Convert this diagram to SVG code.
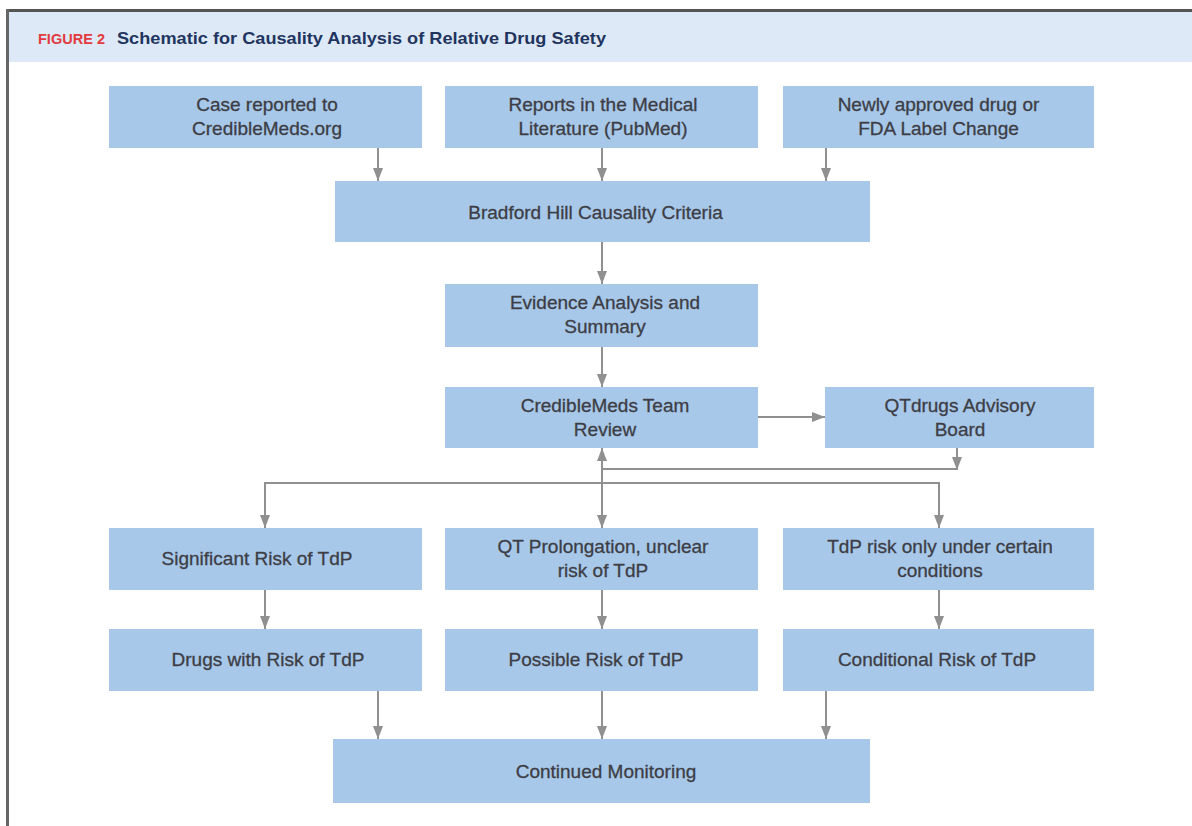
<svg xmlns="http://www.w3.org/2000/svg" width="1192" height="826" viewBox="0 0 1192 826">
<style>
.box{fill:#a7c8e9;}
.t{font-family:"Liberation Sans",Arial,sans-serif;font-size:19px;fill:#3d3d45;stroke:#3d3d45;stroke-width:0.3;text-anchor:middle;}
.c{stroke:#909090;stroke-width:2;fill:none;}
</style>
<defs>
<marker id="ah" viewBox="0 0 13 10" refX="13" refY="5" markerWidth="6.5" markerHeight="5" orient="auto-start-reverse" markerUnits="strokeWidth">
<path d="M0,0 L13,5 L0,10 z" fill="#909090"/>
</marker>
</defs>
<rect x="0" y="0" width="1192" height="826" fill="#ffffff"/>
<rect x="7" y="12" width="1185" height="50" fill="#dde9f7"/>
<line x1="6" y1="10.5" x2="1192" y2="10.5" stroke="#555" stroke-width="3"/>
<line x1="7.5" y1="9" x2="7.5" y2="826" stroke="#666" stroke-width="3"/>
<text x="38" y="44" font-family="Liberation Sans,Arial,sans-serif" font-size="14.5" font-weight="bold" fill="#e23a3f" textLength="67" lengthAdjust="spacing">FIGURE 2</text>
<text x="117" y="44" font-family="Liberation Sans,Arial,sans-serif" font-size="16.5" font-weight="bold" fill="#1f3560" textLength="489" lengthAdjust="spacingAndGlyphs">Schematic for Causality Analysis of Relative Drug Safety</text>

<g id="connectors">
<line class="c" x1="378" y1="148" x2="378" y2="181" marker-end="url(#ah)"/>
<line class="c" x1="602" y1="148" x2="602" y2="181" marker-end="url(#ah)"/>
<line class="c" x1="826" y1="148" x2="826" y2="181" marker-end="url(#ah)"/>
<line class="c" x1="602" y1="242" x2="602" y2="284" marker-end="url(#ah)"/>
<line class="c" x1="602" y1="347" x2="602" y2="387" marker-end="url(#ah)"/>
<line class="c" x1="758" y1="417" x2="825" y2="417" marker-end="url(#ah)"/>
<line class="c" x1="957" y1="448" x2="957" y2="470" marker-end="url(#ah)"/>
<line class="c" x1="957" y1="469" x2="602" y2="469"/>
<line class="c" x1="602" y1="448" x2="602" y2="528" marker-start="url(#ah)" marker-end="url(#ah)"/>
<polyline class="c" points="265,528 265,483 939,483 939,528" marker-start="url(#ah)" marker-end="url(#ah)"/>
<line class="c" x1="265" y1="590" x2="265" y2="629" marker-end="url(#ah)"/>
<line class="c" x1="602" y1="590" x2="602" y2="629" marker-end="url(#ah)"/>
<line class="c" x1="939" y1="590" x2="939" y2="629" marker-end="url(#ah)"/>
<line class="c" x1="378" y1="691" x2="378" y2="739" marker-end="url(#ah)"/>
<line class="c" x1="602" y1="691" x2="602" y2="739" marker-end="url(#ah)"/>
<line class="c" x1="826" y1="691" x2="826" y2="739" marker-end="url(#ah)"/>
</g>

<g id="case"><rect class="box" x="109" y="86" width="313" height="62"/><text class="t" x="267" y="111">Case reported to</text><text class="t" x="267" y="135">CredibleMeds.org</text></g>
<g id="pubmed"><rect class="box" x="445" y="86" width="313" height="62"/><text class="t" x="603" y="111">Reports in the Medical</text><text class="t" x="603" y="135">Literature (PubMed)</text></g>
<g id="fda"><rect class="box" x="783" y="86" width="311" height="62"/><text class="t" x="938.5" y="111">Newly approved drug or</text><text class="t" x="938.5" y="135">FDA Label Change</text></g>
<g id="bradford"><rect class="box" x="335" y="181" width="535" height="61"/><text class="t" x="595.5" y="219">Bradford Hill Causality Criteria</text></g>
<g id="evidence"><rect class="box" x="445" y="284" width="313" height="63"/><text class="t" x="605" y="309">Evidence Analysis and</text><text class="t" x="605" y="333">Summary</text></g>
<g id="team"><rect class="box" x="445" y="387" width="313" height="61"/><text class="t" x="605" y="412">CredibleMeds Team</text><text class="t" x="605" y="436">Review</text></g>
<g id="advisory"><rect class="box" x="825" y="387" width="269" height="61"/><text class="t" x="960" y="412">QTdrugs Advisory</text><text class="t" x="960" y="436">Board</text></g>
<g id="sig"><rect class="box" x="109" y="528" width="313" height="62"/><text class="t" x="257" y="565">Significant Risk of TdP</text></g>
<g id="qtprol"><rect class="box" x="445" y="528" width="313" height="62"/><text class="t" x="603" y="553">QT Prolongation, unclear</text><text class="t" x="603" y="577">risk of TdP</text></g>
<g id="cond"><rect class="box" x="783" y="528" width="311" height="62"/><text class="t" x="940" y="553">TdP risk only under certain</text><text class="t" x="940" y="577">conditions</text></g>
<g id="drugs"><rect class="box" x="109" y="629" width="313" height="62"/><text class="t" x="268" y="666">Drugs with Risk of TdP</text></g>
<g id="possible"><rect class="box" x="445" y="629" width="313" height="62"/><text class="t" x="596" y="666">Possible Risk of TdP</text></g>
<g id="conditional"><rect class="box" x="783" y="629" width="311" height="62"/><text class="t" x="937" y="666">Conditional Risk of TdP</text></g>
<g id="monitoring"><rect class="box" x="333" y="739" width="537" height="64"/><text class="t" x="606" y="778">Continued Monitoring</text></g>
</svg>
